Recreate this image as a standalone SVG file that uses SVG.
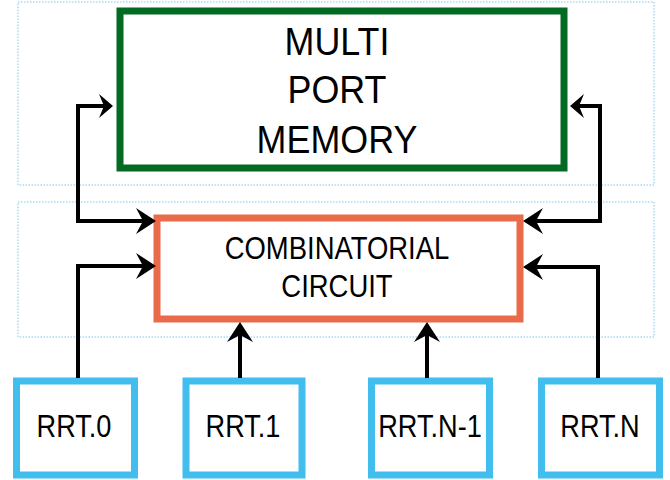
<svg xmlns="http://www.w3.org/2000/svg" width="670" height="480" viewBox="0 0 670 480">
<style>
.grp{fill:none;stroke:#7cc8ef;stroke-width:1;stroke-dasharray:1.5,1.5}
.mem{fill:#fff;stroke:#036a24;stroke-width:7}
.comb{fill:#fff;stroke:#ea6b49;stroke-width:7}
.rrt{fill:#fff;stroke:#41bdee;stroke-width:7}
.t{font-family:"Liberation Sans",Arial,sans-serif;fill:#000;text-anchor:middle}
.big{font-size:39px}
.mid{font-size:30.5px}
.conn{fill:none;stroke:#000;stroke-width:4}
</style>
<defs>
<marker id="ah" markerUnits="userSpaceOnUse" markerWidth="24" markerHeight="30" viewBox="0 -15 24 30" refX="8" refY="0" orient="auto-start-reverse">
<path d="M20,0 L0,-13 L7,0 L0,13 Z" fill="#000"/>
</marker>
<marker id="ahs" markerUnits="userSpaceOnUse" markerWidth="20" markerHeight="30" viewBox="0 -15 20 30" refX="6" refY="0" orient="auto-start-reverse">
<path d="M14,0 L0,-12 L5,0 L0,12 Z" fill="#000"/>
</marker>
</defs>
<rect class="grp" x="18" y="2" width="636" height="183"/>
<rect class="grp" x="18" y="202" width="636" height="135"/>
<g id="memory">
<rect class="mem" x="120" y="11" width="444" height="157"/>
<g transform="translate(337,0) scale(0.92,1)">
<text class="t big" x="0" y="55">MULTI</text>
<text class="t big" x="0" y="103">PORT</text>
<text class="t big" x="0" y="153">MEMORY</text>
</g>
</g>
<g id="comb">
<rect class="comb" x="157" y="218" width="363" height="101"/>
<g transform="translate(337,0) scale(0.9,1)">
<text class="t mid" x="0" y="259">COMBINATORIAL</text>
<text class="t mid" x="0" y="297">CIRCUIT</text>
</g>
</g>
<g id="rrt0">
<rect class="rrt" x="16.5" y="381" width="118" height="94"/>
<text class="t mid" transform="translate(74,0) scale(0.89,1)" x="0" y="437">RRT.0</text>
</g>
<g id="rrt1">
<rect class="rrt" x="186" y="381" width="116" height="94"/>
<text class="t mid" transform="translate(243,0) scale(0.89,1)" x="0" y="437">RRT.1</text>
</g>
<g id="rrtn1">
<rect class="rrt" x="371.5" y="381" width="118" height="94"/>
<text class="t mid" transform="translate(430,0) scale(0.89,1)" x="0" y="437">RRT.N-1</text>
</g>
<g id="rrtn">
<rect class="rrt" x="541.5" y="381" width="118" height="94"/>
<text class="t mid" transform="translate(600,0) scale(0.89,1)" x="0" y="437">RRT.N</text>
</g>
<g id="connectors">
<path class="conn" d="M144,221 H78 V106 H105" marker-start="url(#ah)" marker-end="url(#ahs)"/>
<path class="conn" d="M535,221 H600 V106 H578" marker-start="url(#ah)" marker-end="url(#ahs)"/>
<path class="conn" d="M78,378 V266 H144" marker-end="url(#ah)"/>
<path class="conn" d="M598,378 V267 H535" marker-end="url(#ah)"/>
<path class="conn" d="M240,378 V334" marker-end="url(#ah)"/>
<path class="conn" d="M427,378 V334" marker-end="url(#ah)"/>
</g>
</svg>
